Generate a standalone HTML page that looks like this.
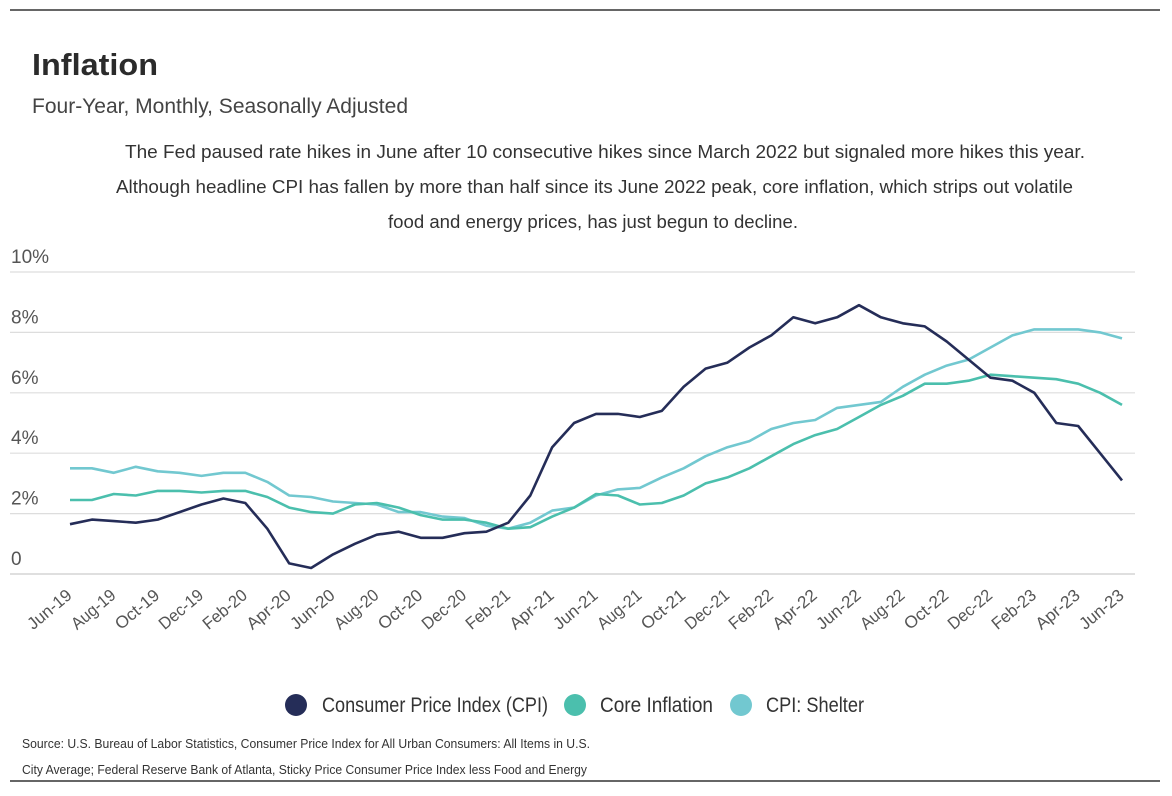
<!DOCTYPE html>
<html><head><meta charset="utf-8"><style>
body{margin:0;background:#fff;font-family:"Liberation Sans",sans-serif;color:#333}
svg{display:block}
</style></head><body>
<svg width="1172" height="796">
<line x1="10" y1="10" x2="1160" y2="10" stroke="#333" stroke-width="1.5"/>
<line x1="10" y1="781" x2="1160" y2="781" stroke="#333" stroke-width="1.5"/>
<text x="32" y="75" font-size="31" font-weight="bold" fill="#2b2b2b" textLength="126" lengthAdjust="spacingAndGlyphs">Inflation</text>
<text x="32" y="113" font-size="21" fill="#444" textLength="376" lengthAdjust="spacingAndGlyphs">Four-Year, Monthly, Seasonally Adjusted</text>
<g font-size="18" fill="#333">
<text x="125" y="158" textLength="960" lengthAdjust="spacingAndGlyphs">The Fed paused rate hikes in June after 10 consecutive hikes since March 2022 but signaled more hikes this year.</text>
<text x="116" y="193" textLength="957" lengthAdjust="spacingAndGlyphs">Although headline CPI has fallen by more than half since its June 2022 peak, core inflation, which strips out volatile</text>
<text x="388" y="228" textLength="410" lengthAdjust="spacingAndGlyphs">food and energy prices, has just begun to decline.</text>
</g>
<g id="grid"></g>
<g id="xlabels"></g>
<g id="lines"></g>
<g font-size="21" fill="#333">
<g><circle cx="296" cy="705" r="11" fill="#252d58"/><text x="322" y="712" textLength="226" lengthAdjust="spacingAndGlyphs">Consumer Price Index (CPI)</text></g>
<g><circle cx="575" cy="705" r="11" fill="#4bbfad"/><text x="600" y="712" textLength="113" lengthAdjust="spacingAndGlyphs">Core Inflation</text></g>
<g><circle cx="741" cy="705" r="11" fill="#72c8d0"/><text x="766" y="712" textLength="98" lengthAdjust="spacingAndGlyphs">CPI: Shelter</text></g>
</g>
<g font-size="13" fill="#333">
<text x="22" y="748" textLength="568" lengthAdjust="spacingAndGlyphs">Source:  U.S. Bureau of Labor Statistics, Consumer Price Index for All Urban Consumers: All Items in U.S.</text>
<text x="22" y="774" textLength="565" lengthAdjust="spacingAndGlyphs">City Average; Federal Reserve Bank of Atlanta, Sticky Price Consumer Price Index less Food and Energy</text>
</g>
</svg>
<script>
const yTicks=[0,2,4,6,8,10];
const yTickLabels=["0","2%","4%","6%","8%","10%"];
const xLabels=["Jun-19","Aug-19","Oct-19","Dec-19","Feb-20","Apr-20","Jun-20","Aug-20","Oct-20","Dec-20","Feb-21","Apr-21","Jun-21","Aug-21","Oct-21","Dec-21","Feb-22","Apr-22","Jun-22","Aug-22","Oct-22","Dec-22","Feb-23","Apr-23","Jun-23"];
const cpi=[1.65,1.8,1.75,1.7,1.8,2.05,2.3,2.5,2.35,1.5,0.35,0.2,0.65,1.0,1.3,1.4,1.2,1.2,1.35,1.4,1.7,2.6,4.2,5.0,5.3,5.3,5.2,5.4,6.2,6.8,7.0,7.5,7.9,8.5,8.3,8.5,8.9,8.5,8.3,8.2,7.7,7.1,6.5,6.4,6.0,5.0,4.9,4.0,3.1];
const core=[2.45,2.45,2.65,2.6,2.75,2.75,2.7,2.75,2.75,2.55,2.2,2.05,2.0,2.3,2.35,2.2,1.95,1.8,1.8,1.7,1.5,1.55,1.9,2.2,2.65,2.6,2.3,2.35,2.6,3.0,3.2,3.5,3.9,4.3,4.6,4.8,5.2,5.6,5.9,6.3,6.3,6.4,6.6,6.55,6.5,6.45,6.3,6.0,5.6];
const shelter=[3.5,3.5,3.35,3.55,3.4,3.35,3.25,3.35,3.35,3.05,2.6,2.55,2.4,2.35,2.3,2.05,2.05,1.9,1.85,1.6,1.5,1.7,2.1,2.2,2.6,2.8,2.85,3.2,3.5,3.9,4.2,4.4,4.8,5.0,5.1,5.5,5.6,5.7,6.2,6.6,6.9,7.1,7.5,7.9,8.1,8.1,8.1,8.0,7.8];
const NS="http://www.w3.org/2000/svg";
const x0=70,x1=1122,y0=574,y10=272;
const xs=i=>x0+(x1-x0)*i/(cpi.length-1);
const ys=v=>y0+(y10-y0)*v/10;
const grid=document.getElementById('grid');
yTicks.forEach((t,i)=>{
 const l=document.createElementNS(NS,'line');
 
 
 l.setAttribute('x1',10);l.setAttribute('x2',1135);l.setAttribute('y1',ys(t));l.setAttribute('y2',ys(t));
 l.setAttribute('stroke',t===0?'#ccc':'#ddd');l.setAttribute('stroke-width',1.2);
 grid.appendChild(l);
 const tx=document.createElementNS(NS,'text');
 
 
 tx.setAttribute('x',11);tx.setAttribute('y',ys(t)-9);tx.setAttribute('font-size','19');tx.setAttribute('fill','#555');
 tx.textContent=yTickLabels[i];grid.appendChild(tx);
});
const xl=document.getElementById('xlabels');
xLabels.forEach((s,i)=>{
 const x=xs(i*2);
 const tx=document.createElementNS(NS,'text');
 
 
 tx.setAttribute('x',x+3);tx.setAttribute('y',597);tx.setAttribute('font-size','17');tx.setAttribute('fill','#555');
 tx.setAttribute('text-anchor','end');tx.setAttribute('transform',`rotate(-40 ${x+3} 597)`);
 tx.setAttribute('textLength','52');tx.setAttribute('lengthAdjust','spacingAndGlyphs');
 tx.textContent=s;xl.appendChild(tx);
});
const lg=document.getElementById('lines');
[[shelter,'#72c8d0','shelter-line'],[core,'#4bbfad','core-inflation-line'],[cpi,'#252d58','cpi-line']].forEach(([d,c,n])=>{
 const p=document.createElementNS(NS,'path');
 
 
 p.setAttribute('d',d.map((v,i)=>(i?'L':'M')+xs(i).toFixed(1)+' '+ys(v).toFixed(1)).join(' '));
 p.setAttribute('fill','none');p.setAttribute('stroke',c);p.setAttribute('stroke-width',2.6);p.setAttribute('stroke-linejoin','round');
 lg.appendChild(p);
});
</script>
</body></html>
